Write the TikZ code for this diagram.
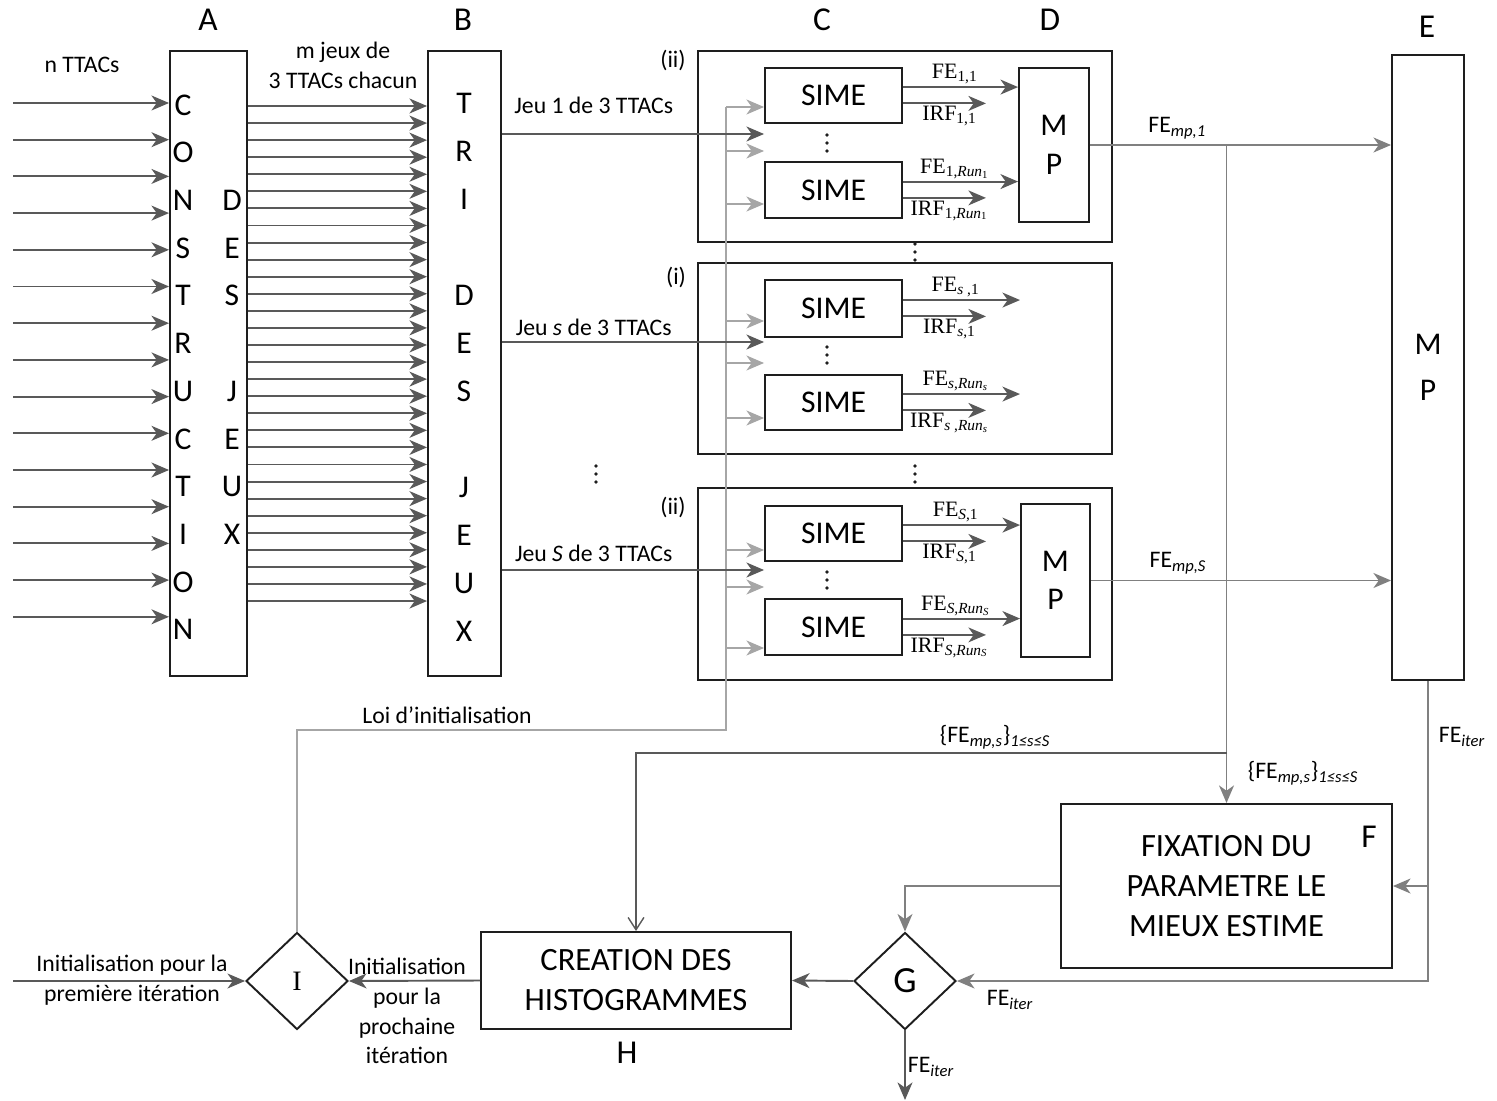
\documentclass[tikz,border=0pt]{standalone}
\usepackage{fontspec}
\setmainfont{Carlito}
\newfontfamily\serf{Liberation Serif}
\usetikzlibrary{shapes.geometric, arrows.meta, positioning, fit}
\definecolor{boxline}{RGB}{30,30,30}
\definecolor{arrdark}{RGB}{89,89,89}
\definecolor{arrlight}{RGB}{166,166,166}
\definecolor{mpline}{RGB}{128,128,128}
\tikzset{
  blk/.style={draw=boxline, line width=1.1pt, inner sep=0pt},
  boxtxt/.style={font=\fontsize{18}{22}\selectfont, align=center, inner sep=0pt},
  bigtxt/.style={font=\fontsize{18.5}{22.8}\selectfont, align=center, inner sep=0pt},
  dia/.style={diamond, draw=boxline, line width=1.1pt, inner sep=0pt,
    minimum width=2.04cm, minimum height=1.94cm},
  arr/.style={-{Stealth[length=10pt,width=8.5pt,inset=3pt]},
    draw=arrdark, line width=1.1pt},
  garr/.style={arr, draw=arrlight},
  mparr/.style={arr, draw=mpline},
  thinarr/.style={-{Straight Barb[length=7pt,width=9pt]},
    draw=arrdark, line width=0.8pt},
  lab/.style={font=\fontsize{13.5}{17}\selectfont, inner sep=1pt},
  slab/.style={font=\serf\fontsize{12.5}{14}\selectfont, inner sep=1pt},
  head/.style={font=\fontsize{19}{22}\selectfont},
  ltr/.style={font=\fontsize{18}{20}\selectfont},
}

\begin{document}
\begin{tikzpicture}[x=0.02cm, y=-0.02cm]
\useasboundingbox (0,0) rectangle (1497,1101);

% column heads
\foreach \name/\x/\y in {A/208/20, B/463/20, C/822/20, D/1050/20, E/1427/27}
  \node[head] (h\name) at (\x,\y) {\name};

% construction and sorting
\node[blk, fit={(170,51) (247,676)}] (A) {};
\node[blk, fit={(428,51) (501,676)}] (B) {};
\foreach \ch [count=\i from 0] in {C,O,N,S,T,R,U,C,T,I,O,N}
  \node[ltr] (a\i) at (183,{105+47.7*\i}) {\ch};
\foreach \ch/\i in {D/2,E/3,S/4,J/6,E/7,U/8,X/9}
  \node[ltr] (ad\i) at (232,{105+47.7*\i}) {\ch};
\foreach \ch/\i in {T/0,R/1,I/2,D/4,E/5,S/6,J/8,E/9,U/10,X/11}
  \node[ltr] (b\i) at (464,{103+48*\i}) {\ch};

\node[lab] (nttacs) at (82,65) {n TTACs};
\node[lab, align=center] (mjeux) at (343,65) {m jeux de\\3 TTACs chacun};

\foreach \k in {0,...,14}{
  \coordinate (in\k) at (13,{103+36.7*\k});
  \draw[arr] (in\k) -- (in\k -| A.west);
}
\foreach \k in {0,...,29}{
  \coordinate (ab\k) at (300,{106+17.07*\k});
  \draw[arr] (ab\k -| A.east) -- (ab\k -| B.west);
}

% groups of runs
\node[blk, fit={(698,51) (1112,242)}] (g1) {};
\node[blk, fit={(698,263) (1112,454)}] (gs) {};
\node[blk, fit={(698,488) (1112,680)}] (gS) {};
\node[lab] (t1) at (673,60) {(ii)};
\node[lab] (ts) at (676,277) {(i)};
\node[lab] (tS) at (673,507) {(ii)};

\foreach \n/\ya/\yb in {s11/68/123, s1n/162/218, ss1/280/337, ssn/375/430, sS1/506/561, sSn/599/655}
  \node[blk, fit={(765,\ya) (902,\yb)}, label={[boxtxt]center:SIME}] (\n) {};
\node[blk, fit={(1019,68) (1089,222)}, label={[boxtxt]center:M\\P}] (mp1) {};
\node[blk, fit={(1021,504) (1090,657)}, label={[boxtxt]center:M\\P}] (mpS) {};
\node[blk, fit={(1392,55) (1464,680)}, label={[boxtxt]center:M\\[4pt]P}] (E) {};
\coordinate (msx) at (1020,400);

% vertical dots
\foreach \x/\y in {827/143, 827/355, 827/580, 915/252, 915/474, 596/474}
  \foreach \d in {-8,0,8}
    \fill[boxline] (\x,{\y+\d}) circle (1.1pt);

% initialisation law
\node[dia, font=\serf\fontsize{16}{18}\selectfont] (I) at (297,981) {I};
\coordinate (loi) at (726,730);
\coordinate (loitop) at (726,107);
\draw[draw=arrlight, line width=1.1pt] (I.north) |- (loi) -- (loitop);
\node[lab] (loilab) at (447,715) {Loi d’initialisation};
\foreach \n/\y in {s11/107, s11/151, s1n/204, ss1/321, ss1/363, ssn/418, sS1/550, sS1/587, sSn/648}{
  \coordinate (gi) at (726,\y);
  \draw[garr] (gi) -- (gi -| \n.west);
}

\foreach \n/\y/\sh/\t in {1/134/10pt/{Jeu 1 de 3 TTACs}, s/342/2pt/{Jeu \textit{s} de 3 TTACs}, S/570/3pt/{Jeu \textit{S} de 3 TTACs}}{
  \coordinate (jeu\n) at (600,\y);
  \draw[arr] (jeu\n -| B.east) -- (jeu\n -| s11.west) node[lab, pos=0.35, above=\sh] {\t};
}

\foreach \n/\m/\fe/\irf in {
  s11/mp1.west/{FE\textsubscript{1,1}}/{IRF\textsubscript{1,1}},
  s1n/mp1.west/{FE\textsubscript{1,\textit{Run}\textsubscript{1}}}/{IRF\textsubscript{1,\textit{Run}\textsubscript{1}}},
  ss1/msx/{FE\textsubscript{\textit{s} ,1}}/{IRF\textsubscript{\textit{s},1}},
  ssn/msx/{FE\textsubscript{\textit{s},\textit{Run}\textsubscript{\textit{s}}}}/{IRF\textsubscript{\textit{s} ,\textit{Run}\textsubscript{\textit{s}}}},
  sS1/mpS.west/{FE\textsubscript{\textit{S},1}}/{IRF\textsubscript{\textit{S},1}},
  sSn/mpS.west/{FE\textsubscript{\textit{S},\textit{Run}\textsubscript{\textit{S}}}}/{IRF\textsubscript{\textit{S},\textit{Run}\textsubscript{\textit{S}}}}}{
  \draw[arr] ([yshift=4.8pt]\n.east) -- ([yshift=4.8pt]\n.east -| \m) node[slab, pos=0.45, above] {\fe};
  \draw[arr] ([yshift=-4.5pt]\n.east) -- ++(83,0) node[slab, pos=0.56, below] {\irf};
}

% best estimate and histograms
\node[blk, fit={(1061,804) (1392,968)}, label={[bigtxt]center:FIXATION DU\\PARAMETRE LE\\MIEUX ESTIME}] (F) {};
\node[blk, fit={(481,932) (791,1029)}, label={[bigtxt]center:CREATION DES\\HISTOGRAMMES}] (H) {};
\node[dia, font=\fontsize{21}{24}\selectfont] (G) at (905,981) {G};
\node[head] (hF) at (1369,837) {F};
\node[head] (hH) at (627,1053) {H};

\draw[mparr] (mp1.east) -- (mp1.east -| E.west) node[lab, pos=0.29, above=2pt] {FE\textsubscript{\itshape mp,1}};
\draw[mparr] (mpS.east) -- (mpS.east -| E.west) node[lab, pos=0.29, above=2pt] {FE\textsubscript{\itshape mp,S}};
\coordinate (jn) at (F.north |- mp1.east);
\coordinate (br) at (1227,753);
\draw[mparr] (jn) -- (F.north);
\draw[thinarr] (br) -| (H.north);
\node[lab] (fes1) at (995,737) {\{FE\textsubscript{\itshape mp,s}\}\textsubscript{\itshape 1≤s≤S}};
\node[lab] (fes2) at (1303,773) {\{FE\textsubscript{\itshape mp,s}\}\textsubscript{\itshape 1≤s≤S}};

\draw[mparr] (F.west) -| (G.north);
\draw[mparr] (E.south) |- (G.east);
\draw[mparr] (E.south |- F.east) -- (F.east);
\draw[arr] (G.west) -- (H.east);
\coordinate (out) at (905,1100);
\draw[arr] (G.south) -- (out);
\draw[arr] (H.west) -- (I.east);
\coordinate (init) at (13,981);
\draw[arr] (init) -- (I.west);

\node[lab] (it1) at (1462,737) {FE\textsubscript{\itshape iter}};
\node[lab] (it2) at (1010,1000) {FE\textsubscript{\itshape iter}};
\node[lab] (it3) at (931,1067) {FE\textsubscript{\itshape iter}};
\node[lab, align=center] (first) at (132,980) {Initialisation pour la\\première itération};
\node[lab, align=center] (next) at (407,1011) {Initialisation\\pour la\\prochaine\\itération};
\end{tikzpicture}
\end{document}
